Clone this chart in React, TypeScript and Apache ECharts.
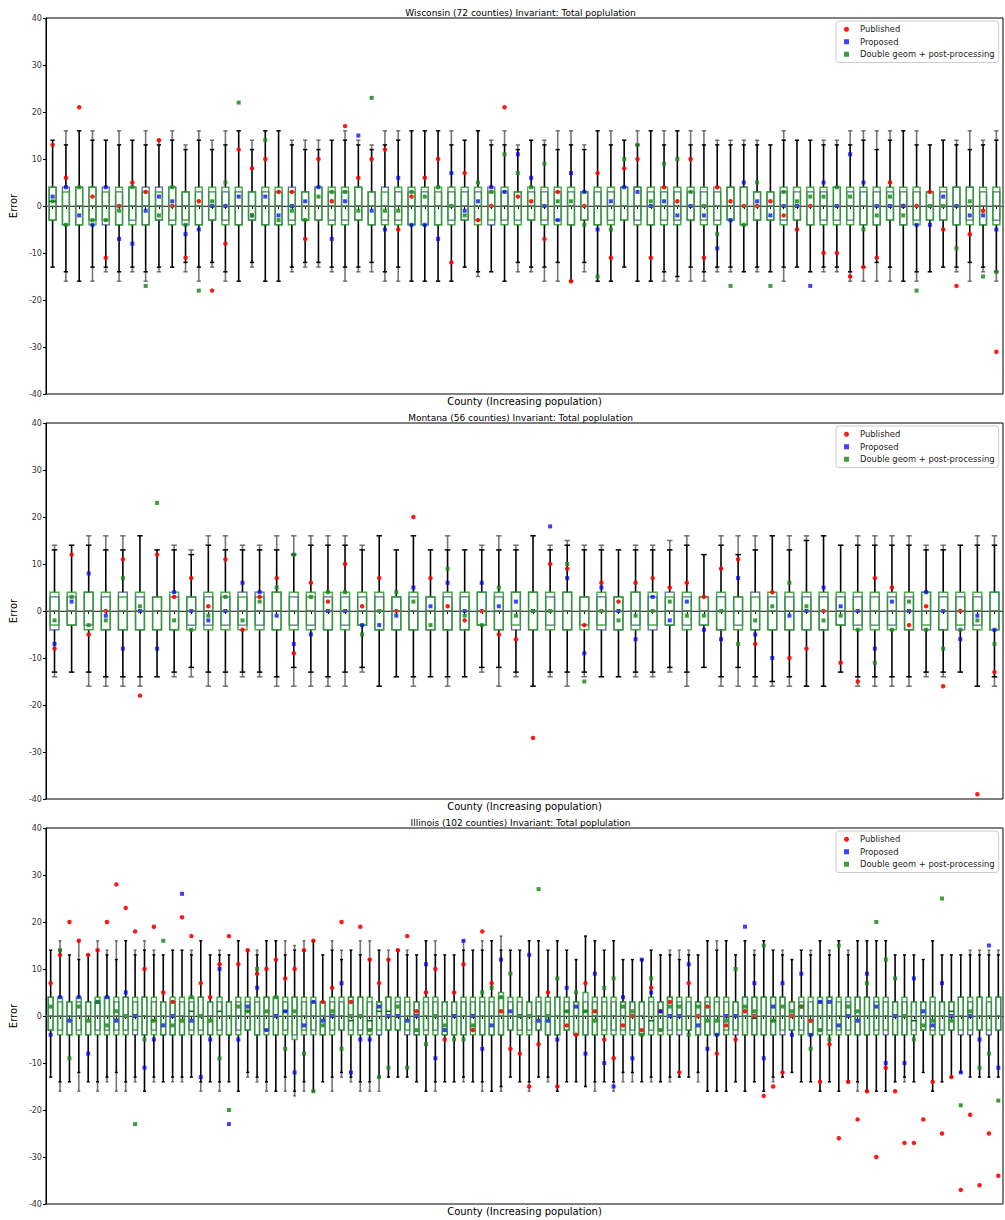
import React, { useEffect, useRef } from "react";
import * as echarts from "echarts";

// ---------------- Wisconsin (72 counties) ----------------
const wiHiA = [14,16,16,16,14,16,14,16,14,16, 13,16,14,16,16,14,16,16,14,14, 14,14,16,14,13,16,16,16,16,16, 16,14,16,14,16,13,14,14,16,16, 13,16,16,14,16,16,16,16,16,16, 14,14,14,14,13,16,14,14,14,14, 16,16,16,16,16,16,13,14,14,16, 14,16];
const wiHiB = [14,13,16,14,14,13,14,13,13,14, 12,14,12,13,16,12,16,16,13,12, 12,14,14,13,12,13,14,16,16,16, 13,14,16,13,13,12,14,13,12,13, 12,16,13,14,13,16,13,16,13,13, 13,13,13,13,13,14,14,14,13,13, 13,14,12,14,16,13,13,14,13,12, 13,14];
const wiLoA = [-13,-16,-16,-16,-14,-16,-14,-16,-14,-13, -14,-16,-13,-16,-16,-13,-16,-16,-14,-13, -13,-14,-16,-14,-14,-16,-16,-16,-16,-16, -16,-13,-15,-14,-16,-14,-14,-16,-16,-16, -14,-16,-16,-13,-16,-16,-16,-16,-16,-16, -14,-14,-14,-14,-14,-16,-13,-14,-14,-14, -16,-16,-16,-16,-16,-16,-14,-13,-14,-16, -14,-16];
const wiLoB = [-13,-14,-16,-13,-13,-14,-13,-14,-13,-13, -12,-13,-12,-14,-16,-12,-16,-16,-13,-12, -12,-13,-13,-13,-12,-14,-13,-16,-16,-16, -16,-13,-14,-14,-16,-12,-13,-13,-12,-16, -12,-16,-16,-13,-16,-16,-14,-15,-13,-14, -13,-13,-14,-13,-14,-13,-13,-14,-13,-13, -14,-13,-12,-13,-16,-14,-14,-13,-13,-12, -13,-14];
const wiQ3g = [4,3,4,4,3,4,4,3,3,4, 3,4,4,4,4,3,4,4,3,3, 4,4,4,4,3,3,4,4,4,4, 4,4,4,3,4,3,4,4,4,4, 3,4,4,4,4,4,4,4,4,4, 4,4,4,3,3,4,4,4,4,4, 4,4,4,4,4,4,3,4,4,4, 4,4];
const wiQ3n = [4,4,4,4,4,3,4,4,4,4, 3,3,3,3,3,3,3,3,4,3, 4,3,3,4,3,4,3,3,3,3, 3,3,3,4,3,3,3,3,3,3, 3,3,3,4,4,3,3,3,3,3, 3,4,4,3,3,3,3,3,3,4, 3,3,3,3,3,3,3,3,4,4, 3,3];
const wiQ1g = [-3,-4,-4,-4,-3,-4,-4,-4,-3,-4, -3,-4,-3,-4,-4,-3,-4,-4,-4,-3, -3,-4,-4,-3,-4,-4,-4,-4,-4,-4, -4,-3,-4,-3,-4,-4,-3,-4,-4,-4, -3,-4,-4,-3,-4,-4,-4,-4,-3,-4, -4,-3,-4,-3,-3,-4,-3,-4,-4,-4, -4,-4,-4,-3,-4,-4,-3,-3,-4,-4, -4,-4];
const wiQ1n = [-3,-4,-4,-3,-4,-4,-3,-4,-3,-3, -4,-4,-3,-3,-4,-3,-4,-4,-3,-3, -3,-3,-3,-3,-4,-3,-3,-4,-4,-4, -3,-3,-3,-4,-3,-3,-3,-3,-3,-4, -3,-4,-3,-3,-3,-4,-3,-3,-3,-3, -3,-3,-4,-3,-3,-3,-3,-4,-3,-3, -3,-4,-4,-3,-4,-3,-3,-3,-4,-3, -4,-3];
const wiMed = [1,0,0,0,0,0,0,0,0,0, 0,0,0,0,0,0,0,0,0,0, 0,0,0,0,0,0,0,0,0,0, 0,0,0,0,0,0,0,0,0,0, 0,0,0,0,0,0,0,0,0,0, 0,0,0,0,0,0,0,0,0,0, 0,0,0,0,0,0,0,0,0,0, 0,0];
const wiPub = [13,6,21,2,-11,0,5,3,14,0, -11,1,-18,-8,12,8,10,3,3,-7, 10,1,17,6,10,12,-5,2,6,10, -12,7,-3,0,21,2,1,-7,3,-16, 0,7,-11,8,10,-11,4,1,10,-11, 4,1,0,0,1,-2,-5,0,-10,-10, -15,-13,-11,5,0,0,3,-5,-17,-6, -1,-31];
const wiProp = [2,4,-2,-4,4,-7,-8,-1,2,1, -6,-5,0,0,2,-2,2,-2,0,1, 4,-7,1,15,-1,-5,6,-4,-4,-7, 7,-1,1,4,3,11,6,0,-3,7, 3,-5,1,4,3,0,1,-2,0,-2, -9,-3,5,1,-2,0,0,-17,5,0, 11,5,0,0,0,-4,-4,2,0,-2, -2,-5];
const wiDbl = [1,-4,4,-3,-3,-1,4,-17,-2,4, -4,-18,1,5,22,-2,14,-3,-1,-3, 2,3,3,-1,23,-1,-1,3,2,4, 0,-2,5,3,11,7,4,9,1,1, -4,-15,-5,10,13,1,9,10,3,0, -6,-17,-4,5,-17,3,1,2,2,4, 2,-5,-2,2,-2,-18,0,0,-9,1, -15,-14];

// ---------------- Montana (56 counties) ----------------
const mtHiA = [14,14,16,16,16,16,13,14,13,16, 16,14,14,16,16,16,16,16,14,16, 13,16,13,16,13,14,16,14,16,14, 15,14,14,13,14,14,15,16,12,16, 16,16,16,16,16,16,14,16,16,16, 16,14,14,14,16,16];
const mtHiB = [13,14,14,13,13,16,13,13,12,14, 13,13,13,13,12,14,14,14,13,16, 13,16,13,13,13,13,13,13,16,13, 14,13,13,13,13,13,13,14,12,14, 12,13,16,13,15,16,14,14,14,14, 14,13,13,14,14,14];
const mtLoA = [-14,-13,-16,-16,-16,-16,-14,-14,-14,-16, -16,-14,-14,-16,-16,-16,-16,-16,-13,-16, -14,-16,-14,-16,-14,-13,-16,-14,-16,-14, -16,-14,-14,-14,-14,-14,-13,-16,-12,-16, -16,-16,-16,-16,-16,-16,-13,-16,-16,-16, -16,-14,-14,-13,-16,-16];
const mtLoB = [-13,-13,-13,-14,-14,-14,-14,-13,-12,-13, -13,-13,-13,-14,-12,-13,-14,-13,-12,-16, -14,-14,-14,-14,-14,-12,-12,-13,-16,-13, -13,-13,-14,-14,-13,-13,-12,-13,-12,-14, -12,-14,-15,-14,-16,-16,-13,-14,-14,-14, -14,-13,-13,-13,-16,-14];
const mtQ3g = [4,4,4,4,3,4,3,4,3,4, 4,3,3,4,4,4,4,4,4,4, 3,4,3,4,4,4,4,4,4,4, 4,3,4,3,4,4,3,4,3,4, 3,3,4,4,4,4,4,4,4,4, 4,4,4,4,4,4];
const mtQ3n = [3,3,4,3,4,3,3,3,3,3, 3,4,4,4,3,3,3,3,3,3, 3,3,3,3,3,4,3,4,4,3, 4,3,3,3,4,3,4,3,3,3, 3,4,3,3,3,3,3,3,3,3, 3,4,3,3,3,4];
const mtQ1g = [-3,-3,-4,-4,-4,-4,-4,-4,-4,-4, -4,-4,-4,-4,-4,-4,-4,-4,-3,-4, -4,-4,-4,-4,-4,-3,-4,-3,-4,-4, -4,-4,-3,-4,-4,-3,-3,-4,-3,-4, -4,-4,-4,-4,-4,-4,-3,-4,-4,-4, -4,-3,-4,-3,-4,-4];
const mtQ1n = [-4,-3,-3,-4,-4,-4,-4,-4,-3,-3, -3,-3,-3,-4,-3,-3,-4,-3,-3,-4, -4,-4,-4,-4,-4,-3,-4,-4,-4,-3, -4,-3,-4,-4,-3,-4,-3,-3,-3,-4, -3,-4,-4,-4,-4,-4,-3,-3,-3,-3, -4,-4,-4,-4,-3,-4];
const mtMed = [0,0,0,0,0,0,0,0,0,0, 0,0,0,0,0,0,0,0,0,0, 0,0,0,0,0,0,0,0,0,0, 0,0,0,0,0,0,0,0,0,0, 0,0,0,0,0,0,0,0,0,0, 0,0,0,0,0,0];
const mtPub = [-8,12,-5,0,11,-18,12,3,7,1, 11,-4,3,7,-9,6,2,10,1,7, 0,20,7,1,-2,0,-5,-6,-27,10, 9,-3,6,2,6,7,5,6,3,9, 11,-7,4,-10,-8,0,-11,-15,7,5, -3,1,-16,0,-39,-13];
const mtProp = [-7,2,8,-1,-8,0,-8,4,0,-2, 0,6,4,-1,-7,-5,0,0,-3,-3, -1,5,1,6,0,6,1,2,0,18, 7,-9,5,0,-6,3,-2,2,-4,-6, 7,-5,-10,-1,0,5,1,0,-8,2, 0,4,0,-6,-1,-4];
const mtDbl = [-2,3,-3,-2,7,1,23,-2,-4,-1, 3,-2,2,5,12,3,4,4,-5,0, 4,2,-3,9,-1,-3,5,-1,0,0, 10,-15,0,-2,-1,0,2,-1,-1,0, -7,-2,1,6,1,-2,-1,-4,-11,-4, 2,-4,-8,-4,-2,-7];

// ---------------- Illinois (102 counties) ----------------
const ilHiA = [14,16,13,16,13,16,14,16,16,14, 16,14,13,14,14,14,16,13,14,13, 16,14,14,16,16,16,15,16,16,13, 16,14,14,16,16,14,14,14,14,13, 16,16,13,13,16,14,16,16,17,14, 14,16,16,14,16,14,12,17,16,14, 16,12,12,12,14,13,14,14,14,13, 16,16,16,13,16,14,16,14,14,12, 14,14,16,14,16,14,16,16,16,16, 13,13,13,12,16,13,13,13,14,14, 14,14];
const ilHiB = [14,14,13,12,13,14,13,12,16,13, 14,13,13,14,14,13,16,13,13,13, 16,14,13,16,16,13,14,14,16,13, 14,12,14,13,12,14,12,14,13,13, 16,13,13,13,14,14,14,16,14,14, 14,16,16,14,16,14,12,17,16,14, 16,12,12,12,14,13,13,12,13,13, 16,14,16,13,16,13,16,14,13,12, 14,13,16,13,16,13,16,16,16,16, 13,13,13,12,16,13,13,13,13,13, 13,13];
const ilLoA = [-13,-16,-14,-16,-14,-16,-14,-16,-16,-14, -16,-14,-14,-14,-14,-13,-16,-14,-16,-14, -16,-13,-14,-16,-16,-16,-17,-16,-16,-14, -16,-13,-14,-16,-16,-16,-13,-13,-13,-14, -16,-16,-14,-14,-14,-14,-16,-16,-16,-13, -14,-16,-13,-14,-16,-14,-14,-15,-16,-14, -16,-14,-14,-14,-14,-14,-14,-13,-13,-14, -16,-16,-16,-14,-16,-14,-16,-14,-13,-12, -14,-14,-16,-14,-16,-14,-16,-16,-16,-16, -14,-14,-14,-12,-16,-14,-13,-12,-13,-13, -13,-13];
const ilLoB = [-13,-14,-14,-12,-14,-14,-13,-12,-14,-13, -16,-13,-14,-13,-13,-13,-14,-14,-14,-14, -16,-12,-13,-14,-16,-13,-16,-14,-16,-14, -13,-12,-13,-14,-14,-13,-13,-13,-13,-14, -16,-14,-14,-14,-13,-14,-14,-16,-15,-13, -14,-14,-13,-13,-16,-14,-14,-15,-14,-14, -14,-12,-12,-14,-13,-14,-13,-13,-13,-12, -16,-16,-16,-14,-16,-14,-16,-13,-13,-12, -14,-14,-16,-14,-16,-14,-14,-16,-16,-16, -14,-13,-14,-12,-16,-14,-13,-12,-13,-13, -13,-13];
const ilQ3g = [4,4,3,4,3,4,4,4,4,4, 4,4,3,4,4,4,4,3,4,3, 4,4,4,4,4,4,4,4,4,3, 4,4,4,4,4,3,4,4,4,3, 4,4,3,3,4,4,4,4,5,4, 4,3,4,4,4,4,3,5,4,4, 4,3,3,3,4,3,4,4,4,3, 4,4,4,3,4,4,4,4,4,3, 4,4,4,4,4,4,4,4,4,4, 3,4,3,3,4,3,3,4,4,4, 4,4];
const ilQ3n = [4,3,3,3,3,3,4,3,4,3, 4,3,3,3,3,3,4,3,3,3, 3,3,3,4,4,3,4,3,3,3, 3,3,4,4,3,3,4,3,3,3, 3,3,3,3,3,3,3,3,4,3, 3,3,3,3,4,3,3,3,3,3, 3,3,3,3,3,3,4,3,3,3, 3,3,3,3,4,4,4,4,4,3, 3,3,3,4,3,3,4,4,3,3, 3,3,3,3,3,3,3,4,3,4, 3,4];
const ilQ1g = [-3,-4,-4,-4,-4,-4,-4,-4,-4,-3, -4,-4,-4,-4,-4,-4,-4,-4,-4,-4, -4,-3,-4,-4,-4,-4,-5,-4,-4,-4, -4,-3,-4,-4,-4,-3,-3,-3,-3,-4, -4,-4,-4,-4,-4,-4,-4,-4,-4,-3, -4,-4,-3,-4,-4,-3,-4,-4,-4,-4, -4,-4,-4,-4,-4,-4,-4,-3,-3,-4, -4,-4,-4,-3,-4,-4,-4,-4,-3,-3, -4,-4,-4,-4,-4,-4,-4,-4,-4,-3, -4,-4,-4,-3,-4,-4,-3,-3,-3,-3, -3,-3];
const ilQ1n = [-3,-3,-4,-3,-4,-3,-3,-3,-3,-4, -4,-3,-4,-4,-4,-3,-3,-4,-3,-4, -3,-3,-4,-3,-4,-3,-4,-3,-3,-4, -3,-3,-3,-3,-3,-4,-3,-3,-4,-4, -3,-3,-4,-4,-4,-3,-4,-4,-4,-3, -3,-3,-3,-4,-4,-3,-4,-4,-4,-3, -3,-3,-3,-4,-3,-3,-3,-4,-3,-4, -4,-4,-3,-4,-4,-4,-4,-4,-4,-3, -3,-4,-3,-3,-3,-3,-4,-4,-3,-4, -4,-4,-3,-3,-3,-3,-3,-4,-4,-3, -4,-3];
const ilMed = [0,0,0,0,0,0,0,0,0,0, 0,-1,0,0,0,1,0,0,1,0, 0,1,0,0,0,1,0,0,0,0, 0,0,-1,0,-1,1,1,0,0,0, 0,0,0,0,0,0,0,0,0,0, 0,0,0,0,0,1,0,1,0,0, 0,0,0,0,-1,0,0,0,0,0, 0,0,0,0,0,-0.5,0,-1,0,0, 0,0,0,0,0,0,0,0,0,0, 0,0,-1,0,0,0,1,0,0,0, 0,0];
const ilPub = [7,13,20,16,13,14,20,28,23,18, 10,19,5,3,21,17,7,4,11,17, 11,14,9,10,12,8,10,14,16,3, 6,20,3,19,12,7,12,14,17,1, 5,10,-5,5,11,-3,18,7,1,-7, -8,-15,-6,5,-15,-2,-4,7,1,-5, -9,-2,0,-3,6,1,3,-12,7,0, 2,-8,-2,-5,1,0,-17,-15,-12,0, 2,-1,-14,-6,-26,-14,-22,-16,-30,-11, -16,-27,-27,-22,-14,-25,-13,-37,-21,-36, -25,-34];
const ilProp = [-4,4,-1,4,-8,3,4,-1,5,0, -11,-5,-2,0,26,-1,-13,-5,10,-23, -5,2,6,-3,0,1,-12,-2,3,-1, 0,7,-12,-5,-5,2,0,0,-1,0, 11,-9,-3,0,16,0,-7,-2,12,1, 0,13,-1,-1,-5,6,2,-8,9,-10, -15,4,-9,12,5,1,0,0,11,-2, -7,-4,0,0,19,7,-9,2,7,-4, 9,-4,3,3,-2,0,-1,9,2,-10, 0,-10,8,1,-2,7,0,-12,0,-5, 15,-11];
const ilDbl = [2,14,-9,2,-1,3,-2,1,0,-23, -5,-1,16,-2,-1,4,0,-1,-9,-20, 2,1,10,1,4,-7,1,-8,-16,-2, 1,-7,0,0,-3,-13,-11,2,-11,-3, -6,0,-2,-5,-5,-2,5,6,4,9, 0,0,27,0,8,1,5,1,-1,6, 8,2,1,-4,8,-3,2,2,-4,2, -1,-1,-1,10,2,1,15,-1,2,1, 2,-7,-3,-5,15,2,1,7,20,12, 8,0,-5,-2,-1,25,-1,-19,1,-11, -8,-18];

const yTicks = [-40, -30, -20, -10, 0, 10, 20, 30, 40];
const SERIES_NAMES = ["Published", "Proposed", "Double geom + post-processing"];

const PANELS = [
  { title: "Wisconsin (72 counties) Invariant: Total poplulation", hiA: wiHiA, hiB: wiHiB, loA: wiLoA, loB: wiLoB, q3g: wiQ3g, q3n: wiQ3n, q1g: wiQ1g, q1n: wiQ1n, med: wiMed, pub: wiPub, prop: wiProp, dbl: wiDbl },
  { title: "Montana (56 counties) Invariant: Total poplulation", hiA: mtHiA, hiB: mtHiB, loA: mtLoA, loB: mtLoB, q3g: mtQ3g, q3n: mtQ3n, q1g: mtQ1g, q1n: mtQ1n, med: mtMed, pub: mtPub, prop: mtProp, dbl: mtDbl },
  { title: "Illinois (102 counties) Invariant: Total poplulation", hiA: ilHiA, hiB: ilHiB, loA: ilLoA, loB: ilLoB, q3g: ilQ3g, q3n: ilQ3n, q1g: ilQ1g, q1n: ilQ1n, med: ilMed, pub: ilPub, prop: ilProp, dbl: ilDbl },
];

const FONT = "DejaVu Sans";
const GRID_TOPS = [18, 423, 828];
const GRID_H = 376;
const PLOT_LEFT = 38;
const PLOT_RIGHT = 1003;

const renderBox = (params: any, api: any) => {
  const i = api.value(0);
  const v = (k: number) => api.value(k);
  const y = (val: number) => api.coord([i, val])[1];
  const x = api.coord([i, 0])[0];
  const band = api.size([1, 0])[0];
  const bw = band * 0.52;
  const cw = bw * 0.62;
  const hiA = v(1), hiB = v(2), q3g = v(3), q3n = v(4), med = v(5), q1n = v(6), q1g = v(7), loB = v(8), loA = v(9);
  const top = Math.max(q3g, q3n);
  const bot = Math.min(q1g, q1n);
  const L = (x1: number, y1: number, x2: number, y2: number, stroke: string, lw: number, op = 1) => ({
    type: "line",
    shape: { x1, y1, x2, y2 },
    style: { stroke, lineWidth: lw, opacity: op },
  });
  const hiIn = Math.min(hiA, hiB);
  const loIn = Math.max(loA, loB);
  const kids: any[] = [];
  kids.push(L(x, y(top), x, y(hiIn), "#000", 1.6));
  if (hiA !== hiB) kids.push(L(x, y(hiIn), x, y(Math.max(hiA, hiB)), "#555", 1.6, 0.8));
  kids.push(L(x, y(bot), x, y(loIn), "#000", 1.6));
  if (loA !== loB) kids.push(L(x, y(loIn), x, y(Math.min(loA, loB)), "#555", 1.6, 0.8));
  kids.push(L(x - cw / 2, y(hiIn), x + cw / 2, y(hiIn), "#000", 1.5));
  if (hiA !== hiB) kids.push(L(x - cw / 2, y(Math.max(hiA, hiB)), x + cw / 2, y(Math.max(hiA, hiB)), "#555", 1.5, 0.8));
  kids.push(L(x - cw / 2, y(loIn), x + cw / 2, y(loIn), "#000", 1.5));
  if (loA !== loB) kids.push(L(x - cw / 2, y(Math.min(loA, loB)), x + cw / 2, y(Math.min(loA, loB)), "#555", 1.5, 0.8));
  const yn1 = y(q3n), yn2 = y(q1n);
  kids.push({
    type: "rect",
    shape: { x: x - bw / 2, y: yn1, width: bw, height: yn2 - yn1 },
    style: { fill: "none", stroke: "#1d3c66", lineWidth: 1.3, opacity: 0.75 },
  });
  const yg1 = y(q3g), yg2 = y(q1g);
  kids.push({
    type: "rect",
    shape: { x: x - bw / 2, y: yg1, width: bw, height: yg2 - yg1 },
    style: { fill: "none", stroke: "#2ca02c", lineWidth: 1.5, opacity: 0.85 },
  });
  kids.push(L(x - bw / 2, y(med), x + bw / 2, y(med), "#0b5e1c", 1.5));
  return { type: "group", children: kids };
};

function buildOption() {
  const grid: any[] = [];
  const xAxis: any[] = [];
  const yAxis: any[] = [];
  const series: any[] = [];
  const legend: any[] = [];
  const graphic: any[] = [];

  PANELS.forEach((p, k) => {
    const cats = p.pub.map((_, i) => String(i + 1));
    grid.push({
      left: PLOT_LEFT,
      width: PLOT_RIGHT - PLOT_LEFT,
      top: GRID_TOPS[k],
      height: GRID_H,
      show: true,
      borderColor: "#000",
      borderWidth: 1,
      backgroundColor: "transparent",
    });
    xAxis.push({
      type: "category",
      gridIndex: k,
      data: cats,
      boundaryGap: true,
      axisLine: { show: true, lineStyle: { color: "#000", width: 1 } },
      axisTick: { show: true, alignWithLabel: true, interval: 0, length: 3, lineStyle: { color: "#000" } },
      axisLabel: { show: false },
      splitLine: { show: false },
      name: "County (Increasing population)",
      nameLocation: "middle",
      nameGap: 2,
      nameTextStyle: { fontSize: 10, color: "#000", fontFamily: FONT, verticalAlign: "top" },
    });
    yAxis.push({
      type: "value",
      gridIndex: k,
      min: yTicks[0],
      max: yTicks[yTicks.length - 1],
      interval: 10,
      axisLine: { show: true, lineStyle: { color: "#000", width: 1 } },
      axisTick: { show: true, length: 3, lineStyle: { color: "#000" } },
      axisLabel: { fontSize: 8, color: "#333", fontFamily: FONT, margin: 4 },
      splitLine: { show: false },
      name: "Error",
      nameLocation: "middle",
      nameGap: 19,
      nameTextStyle: { fontSize: 10, color: "#000", fontFamily: FONT },
    });
    const rows = cats.map((_, i) => [i, p.hiA[i], p.hiB[i], p.q3g[i], p.q3n[i], p.med[i], p.q1n[i], p.q1g[i], p.loB[i], p.loA[i]]);
    series.push({
      type: "custom",
      name: "box" + k,
      xAxisIndex: k,
      yAxisIndex: k,
      data: rows,
      encode: { x: 0, y: [1, 2, 3, 4, 5, 6, 7, 8, 9] },
      renderItem: renderBox,
      z: 2,
      silent: true,
      markLine: {
        silent: true,
        symbol: ["none", "none"],
        label: { show: false },
        lineStyle: { color: "#888", width: 1.5, type: "solid", opacity: 0.7 },
        data: [{ yAxis: 0 }],
      },
    });
    const toPts = (arr: number[]) => arr.map((v, i) => [i, v]);
    series.push({
      type: "scatter",
      name: SERIES_NAMES[0],
      xAxisIndex: k,
      yAxisIndex: k,
      symbol: "circle",
      symbolSize: 4.5,
      itemStyle: { color: "#ff0000", opacity: 0.9 },
      data: toPts(p.pub),
      z: 4,
    });
    series.push({
      type: "scatter",
      name: SERIES_NAMES[1],
      xAxisIndex: k,
      yAxisIndex: k,
      symbol: "rect",
      symbolSize: 4,
      itemStyle: { color: "#0000ff", opacity: 0.75 },
      data: toPts(p.prop),
      z: 4,
    });
    series.push({
      type: "scatter",
      name: SERIES_NAMES[2],
      xAxisIndex: k,
      yAxisIndex: k,
      symbol: "rect",
      symbolSize: 4,
      itemStyle: { color: "#1e8a1e", opacity: 0.85 },
      data: toPts(p.dbl),
      z: 4,
    });
    legend.push({
      left: 836,
      top: GRID_TOPS[k] + 3,
      orient: "vertical",
      itemWidth: 5,
      itemHeight: 5,
      itemGap: 2,
      padding: [3, 4, 3, 8],
      borderColor: "#ccc",
      borderWidth: 1,
      borderRadius: 3,
      backgroundColor: "rgba(255,255,255,0.85)",
      selectedMode: false,
      textStyle: { fontSize: 8.4, color: "#222", fontFamily: FONT, lineHeight: 10.5, padding: [0, 0, 0, 6] },
      data: [
        { name: SERIES_NAMES[0], icon: "circle" },
        { name: SERIES_NAMES[1], icon: "rect" },
        { name: SERIES_NAMES[2], icon: "rect" },
      ],
    });
    graphic.push({
      type: "text",
      x: (PLOT_LEFT + PLOT_RIGHT) / 2,
      y: GRID_TOPS[k] - 10,
      style: { text: p.title, textAlign: "center", fontSize: 9, fill: "#000", fontFamily: FONT },
    });
  });

  return {
    animation: false,
    backgroundColor: "#fff",
    textStyle: { fontFamily: FONT },
    grid,
    xAxis,
    yAxis,
    series,
    legend,
    graphic,
  };
}

export default function App() {
  const ref = useRef<HTMLDivElement>(null);
  useEffect(() => {
    if (!ref.current) return;
    const chart = echarts.init(ref.current, null, { renderer: "svg" });
    chart.setOption(buildOption() as any);
    return () => chart.dispose();
  }, []);
  return <div ref={ref} style={{ position: "absolute", left: 0, top: 0, width: 1005, height: 1220 }} />;
}
